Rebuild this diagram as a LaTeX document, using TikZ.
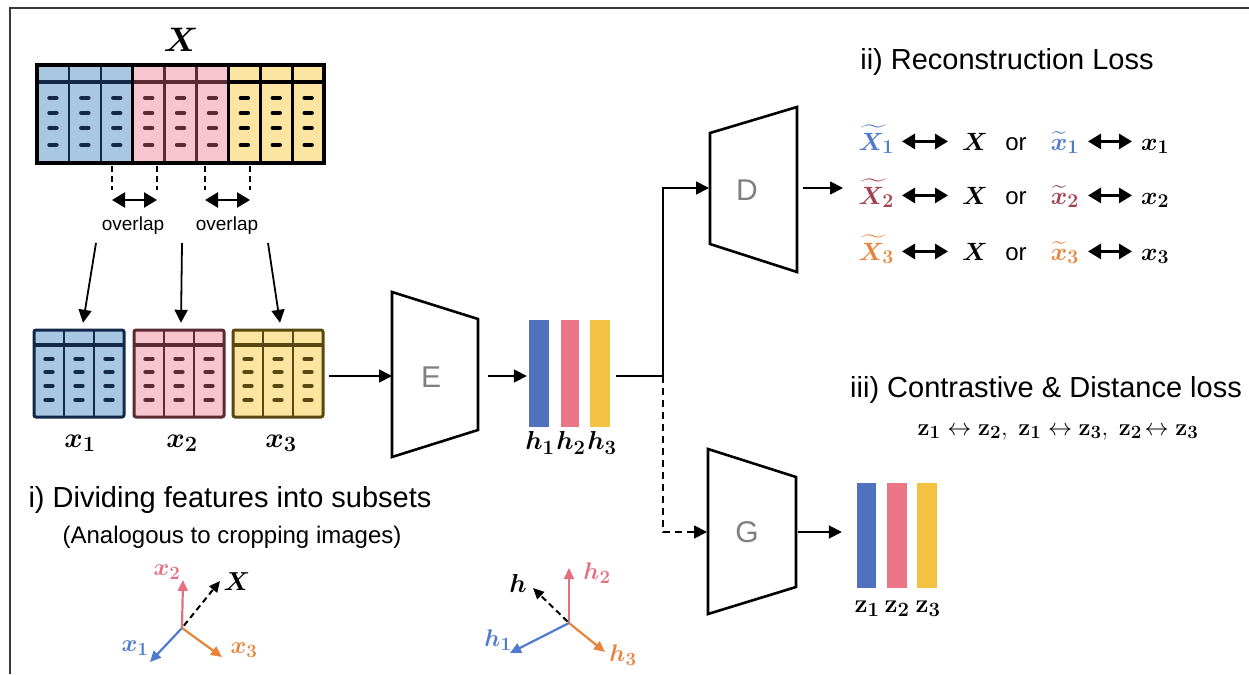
\documentclass[tikz,border=0pt]{standalone}
\usepackage{fix-cm}
\usepackage[no-math]{fontspec}
\usepackage{amsmath,bm}
\usetikzlibrary{arrows.meta,calc}
\newfontfamily\arialfont{Liberation Sans}
% larger subscripts for the big math labels
\def\defaultscriptratio{.78}

\definecolor{tblue}{HTML}{A9C7E3}
\definecolor{lblue}{HTML}{12294A}
\definecolor{tpink}{HTML}{F6C5CD}
\definecolor{lpink}{HTML}{5C2A33}
\definecolor{tyell}{HTML}{FBE5A0}
\definecolor{lyell}{HTML}{5A4812}
\definecolor{bblue}{HTML}{4F71BE}
\definecolor{bpink}{HTML}{EC7686}
\definecolor{byell}{HTML}{F5C143}
\definecolor{cblue}{HTML}{4F7BCF}
\definecolor{cmaroon}{HTML}{A4414F}
\definecolor{corange}{HTML}{E8843A}
\definecolor{cpink}{HTML}{E2707F}
\definecolor{labgray}{HTML}{7F7F7F}
\definecolor{framegray}{HTML}{3A3A3A}

% three columns of a feature table: left, top, bottom, header rule, fill, line colour, dash rows, column width
\newcommand{\colblock}[8]{%
  \fill[#5] (#1,#2) rectangle ({#1+3*#8},#3);
  \draw[#6, line width=3.6pt] (#1,#4) -- ({#1+3*#8},#4);
  \foreach \kk in {1,2}
    \draw[#6, line width=2.6pt] ({#1+\kk*#8},#2) -- ({#1+\kk*#8},#3);
  \foreach \ci in {0,1,2}
    \foreach \rj in {#7}
      \draw[#6, line width=4.2pt, line cap=round]
        ({#1+(\ci+0.5)*#8-3.6},\rj) -- ({#1+(\ci+0.5)*#8+3.6},\rj);
}

\tikzset{
  conn/.style={line width=1.8pt, -{Triangle[length=13pt,width=13pt]}},
  dconn/.style={conn, dash pattern=on 7pt off 5pt},
  twoway/.style={line width=2.8pt, {Triangle[length=13pt,width=15pt]}-{Triangle[length=13pt,width=15pt]}},
  guide/.style={line width=1.4pt, dash pattern=on 6pt off 4pt},
  block/.style={line width=2.6pt, line join=miter},
  blocktext/.style={font=\arialfont\fontsize{30}{36}\selectfont, text=labgray, inner sep=0pt},
  heading/.style={font=\arialfont\fontsize{29}{34}\selectfont, inner sep=0pt},
  subheading/.style={font=\arialfont\fontsize{24}{29}\selectfont, inner sep=0pt},
  smalltext/.style={font=\arialfont\fontsize{19}{23}\selectfont, inner sep=0pt},
  mathlab/.style={font=\fontsize{28}{32}\selectfont, inner sep=0pt},
  barlab/.style={font=\fontsize{26}{30}\selectfont, inner sep=0pt},
  reclab/.style={font=\fontsize{25}{29}\selectfont, inner sep=0pt},
  axlab/.style={font=\fontsize{24}{28}\selectfont, inner sep=0pt},
  bar/.style={minimum width=20pt, minimum height=107pt, inner sep=0pt},
  zbar/.style={minimum width=20pt, minimum height=105pt, inner sep=0pt},
  tabbox/.style={minimum width=90pt, minimum height=87pt, inner sep=0pt},
  axis/.style={line width=2.2pt, -{Triangle[length=11pt,width=10pt]}},
}

\begin{document}
\begin{tikzpicture}[x=1pt, y=-1pt]
\useasboundingbox (0,0) rectangle (1249,674);

% frame
\draw[framegray, line width=2pt] (10,674) -- (10,8) -- (1249,8);

% full feature table X
\node[font=\fontsize{34}{38}\selectfont, inner sep=0pt] (Xlab) at (181,40) {$\bm{X}$};
\colblock{37}{65}{163}{82}{tblue}{lblue}{98,113,128,145}{31.9}
\colblock{132.7}{65}{163}{82}{tpink}{lpink}{98,113,128,145}{31.9}
\colblock{228.4}{65}{163}{82}{tyell}{black}{98,113,128,145}{31.9}
\draw[black, line width=3pt] (132.7,65) -- (132.7,163) (228.4,65) -- (228.4,163);
\draw[black, line width=3.5pt] (37,65) rectangle (324,163);
\node[inner sep=0pt, minimum width=287pt, minimum height=98pt] (Xtab) at (180.5,114) {};

% overlaps between neighbouring subsets
\coordinate (ov1a) at (112,200);
\coordinate (ov1b) at (157,200);
\coordinate (ov2a) at (205,200);
\coordinate (ov2b) at (250,200);
\foreach \p in {ov1a,ov1b,ov2a,ov2b}
  \draw[guide] ([yshift=-3pt]Xtab.south -| \p) -- ([yshift=10pt]\p);
\draw[twoway, line width=2.4pt] (ov1a) -- (ov1b);
\draw[twoway, line width=2.4pt] (ov2a) -- (ov2b);
\node[smalltext] (ovl1) at (133,226) {overlap};
\node[smalltext] (ovl2) at (227,226) {overlap};

% subset tables
\foreach \L/\F/\C/\nm in {34/tblue/lblue/x1tab, 134/tpink/lpink/x2tab, 233/tyell/lyell/x3tab}{
  \colblock{\L}{330}{417}{345}{\F}{\C}{359,372,386,400}{30}
  \draw[\C, line width=3pt, rounded corners=2pt] (\L,330) rectangle ({\L+90},417);
  \node[tabbox] (\nm) at ({\L+45},373.5) {};
}
\node[mathlab] (x1lab) at (80,443) {$\bm{x}_{\mathbf{1}}$};
\node[mathlab] (x2lab) at (182,443) {$\bm{x}_{\mathbf{2}}$};
\node[mathlab] (x3lab) at (281,443) {$\bm{x}_{\mathbf{3}}$};

\coordinate (s1) at (96,243);
\coordinate (s2) at (182,243);
\coordinate (s3) at (268,243);
\draw[conn] (s1) -- ([xshift=4pt,yshift=7pt]x1tab.north);
\draw[conn] (s2) -- ([xshift=2pt,yshift=7pt]x2tab.north);
\draw[conn] (s3) -- ([xshift=2pt,yshift=7pt]x3tab.north);

% encoder
\draw[block] (392,292) -- (478,319) -- (478,430) -- (392,457) -- cycle;
\node[blocktext] (Elab) at (431,377) {E};
\coordinate (E-in) at (392,376);
\coordinate (E-out) at (478,376);
\draw[conn, shorten <=6pt] (x3tab.east |- E-in) -- (E-in);

% representations h
\node[bar, fill=bblue] (h1) at (539,373.5) {};
\node[bar, fill=bpink, minimum width=18pt] (h2) at (570,373.5) {};
\node[bar, fill=byell] (h3) at (600,373.5) {};
\node[barlab] (h1lab) at (540,443) {$\bm{h}_{\mathbf{1}}$};
\node[barlab] (h2lab) at (571,443) {$\bm{h}_{\mathbf{2}}$};
\node[barlab] (h3lab) at (602,443) {$\bm{h}_{\mathbf{3}}$};
\draw[conn, shorten <=10pt, shorten >=2pt] (E-out) -- (h1.west |- E-out);

% branch towards decoder and projection head
\coordinate (branch) at (663,376);
\coordinate (D-in) at (710,188);
\coordinate (G-in) at (708,532);
\draw[line width=1.8pt, shorten <=6pt] (h3.east |- branch) -- (branch);
\draw[conn, shorten >=1pt] (branch) |- (D-in);
\draw[dconn, shorten >=1pt] (branch) |- (G-in);

% decoder
\draw[block] (710,133) -- (797,107) -- (797,272) -- (710,244) -- cycle;
\node[blocktext] (Dlab) at (747,190) {D};
\coordinate (D-out) at (797,188);
\coordinate (rec-in) at (843,188);
\draw[conn, shorten <=6pt] (D-out) -- (rec-in);

\node[heading] (head2) at (1007,62) {ii) Reconstruction Loss};
\foreach \r/\b/\col in {1/150/cblue, 2/204/cmaroon, 3/260/corange}{
  \node[reclab, anchor=base east, text=\col] (Xt\r) at (894,\b) {$\widetilde{\bm{X}}_{\mathbf{\r}}$};
  \node[reclab, anchor=base west] (Xa\r) at (962,\b) {$\bm{X}$};
  \node[font=\arialfont\fontsize{24}{28}\selectfont, inner sep=0pt, anchor=base] (or\r) at (1016,\b) {or};
  \node[reclab, anchor=base east, text=\col] (xt\r) at (1079,\b) {$\widetilde{\bm{x}}_{\mathbf{\r}}$};
  \node[reclab, anchor=base west] (xa\r) at (1141,\b) {$\bm{x}_{\mathbf{\r}}$};
  \draw[twoway, shorten <=8pt, shorten >=14pt] (Xt\r.east |- Xa\r.west) -- (Xa\r.west);
  \draw[twoway, shorten <=9pt, shorten >=9pt] (xt\r.east |- Xa\r.west) -- (xa\r.west |- Xa\r.west);
}

% projection head
\draw[block] (708,449) -- (796,477) -- (796,587) -- (708,614) -- cycle;
\node[blocktext] (Glab) at (747,532) {G};
\coordinate (G-out) at (796,532);

\node[zbar, fill=bblue, minimum width=19pt] (z1) at (866.5,535.5) {};
\node[zbar, fill=bpink] (z2) at (897,535.5) {};
\node[zbar, fill=byell] (z3) at (927,535.5) {};
\node[barlab] (z1lab) at (867,609) {$\mathbf{z}_{\mathbf{1}}$};
\node[barlab] (z2lab) at (897,609) {$\mathbf{z}_{\mathbf{2}}$};
\node[barlab] (z3lab) at (928,609) {$\mathbf{z}_{\mathbf{3}}$};
\draw[conn, shorten <=2pt, shorten >=15pt] (G-out) -- (z1.west |- G-out);

\node[heading] (head3) at (1046,390) {iii) Contrastive \& Distance loss};
\node[font=\fontsize{24}{28}\selectfont, inner sep=0pt] (zrel) at (1058,432)
  {$\mathbf{z}_{\mathbf{1}}\leftrightarrow\mathbf{z}_{\mathbf{2}},\;\mathbf{z}_{\mathbf{1}}\leftrightarrow\mathbf{z}_{\mathbf{3}},\;\mathbf{z}_{\mathbf{2}}\!\leftrightarrow\mathbf{z}_{\mathbf{3}}$};

% dividing features
\node[heading] (head1) at (230,500) {i) Dividing features into subsets};
\node[subheading] (head1b) at (232,537) {(Analogous to cropping images)};

% input-space axes
\coordinate (o1) at (182,628);
\coordinate (tx2) at (183,580);
\coordinate (tx1) at (150,662);
\coordinate (tx3) at (222,657);
\coordinate (tX) at (220,581);
\draw[axis, cpink] (o1) -- (tx2);
\draw[axis, cblue] (o1) -- (tx1);
\draw[axis, corange] (o1) -- (tx3);
\draw[axis, black, line width=2pt, dash pattern=on 6pt off 4pt, shorten <=3pt] (o1) -- (tX);
\node[axlab, text=cpink] (lx2) at (167,572) {$\bm{x}_{\mathbf{2}}$};
\node[axlab, text=cblue] (lx1) at (135,648) {$\bm{x}_{\mathbf{1}}$};
\node[axlab, text=corange] (lx3) at (244,650) {$\bm{x}_{\mathbf{3}}$};
\node[axlab, font=\fontsize{26}{30}\selectfont] (lX) at (237,582) {$\bm{X}$};

% representation-space axes
\coordinate (o2) at (569,623);
\coordinate (th2) at (569,568);
\coordinate (th1) at (510,653);
\coordinate (th3) at (605,652);
\coordinate (th) at (533,588);
\draw[axis, cpink] (o2) -- (th2);
\draw[axis, cblue] (o2) -- (th1);
\draw[axis, corange] (o2) -- (th3);
\draw[axis, black, line width=2pt, dash pattern=on 6pt off 4pt, shorten <=2pt] (o2) -- (th);
\node[axlab, font=\fontsize{26}{30}\selectfont] (lh) at (518,583) {$\bm{h}$};
\node[axlab, text=cpink] (lh2) at (597,573) {$\bm{h}_{\mathbf{2}}$};
\node[axlab, text=cblue] (lh1) at (498,640) {$\bm{h}_{\mathbf{1}}$};
\node[axlab, text=corange] (lh3) at (623,655) {$\bm{h}_{\mathbf{3}}$};
\end{tikzpicture}
\end{document}
